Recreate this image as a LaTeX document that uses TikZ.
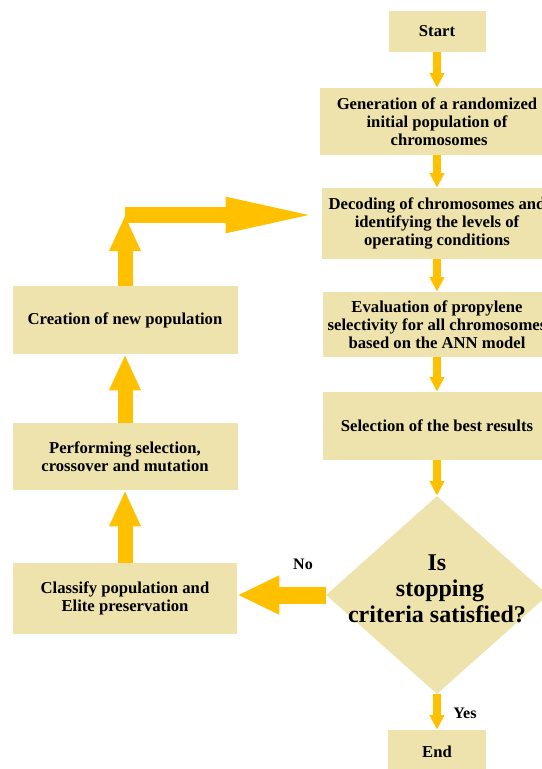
\documentclass[tikz,border=0pt]{standalone}
\usepackage{fontspec}
\setmainfont{Liberation Serif}
\usetikzlibrary{arrows.meta,shapes.geometric}
\definecolor{boxfill}{HTML}{EEE3AD}
\definecolor{arrowgold}{HTML}{FFC000}
\begin{document}
\begin{tikzpicture}[x=0.75pt,y=-0.75pt,
  box/.style={fill=boxfill, draw=none, inner sep=0pt, align=center,
    font=\bfseries\fontsize{12.5}{13.5}\selectfont},
  decision/.style={diamond, fill=boxfill, draw=none, inner sep=0pt},
  lbl/.style={inner sep=0pt, font=\bfseries\fontsize{12}{13}\selectfont},
  smallarrow/.style={draw=arrowgold, line width=6pt, -{Triangle[width=10.5pt,length=11pt]}},
  bigup/.style={draw=arrowgold, line width=11.25pt, -{Triangle[width=21.75pt,length=27pt]}},
  bighoriz/.style={draw=arrowgold, line width=12pt, -{Triangle[width=23.25pt,length=72pt]}},
  noarrow/.style={draw=arrowgold, line width=12.75pt, -{Triangle[width=27pt,length=31.5pt]}}
]
\useasboundingbox (0,0) rectangle (542,769);
\clip (0,0) rectangle (542,769);

% right column
\node[box, minimum width=97*0.75pt, minimum height=41*0.75pt] (start) at (437,31.5) {Start};
\node[box, minimum width=234*0.75pt, minimum height=67*0.75pt] (gen) at (437,121.5)
  {Generation of a randomized\\ initial population of\\ \ chromosomes};
\node[box, minimum width=230*0.75pt, minimum height=71*0.75pt] (dec) at (437,223.5)
  {Decoding of chromosomes and\\ identifying the levels of\\ operating conditions};
\node[box, minimum width=228*0.75pt, minimum height=65*0.75pt] (eval) at (437,324.5)
  {Evaluation of propylene\\ selectivity for all chromosomes\\ based on the ANN model};
\node[box, minimum width=228*0.75pt, minimum height=68*0.75pt] (sel) at (437,426)
  {Selection of the best results};
\node[decision, minimum width=222*0.75pt, minimum height=198*0.75pt] (dia) at (437,595) {};
\node[inner sep=0pt, align=center, font=\bfseries\fontsize{18}{19.5}\selectfont] (diatext) at (437,589)
  {Is\\ \ stopping\\ criteria satisfied?};
\node[box, minimum width=98*0.75pt, minimum height=44*0.75pt] (end) at (437,752) {End};

% left column
\node[box, minimum width=225*0.75pt, minimum height=68*0.75pt] (creation) at (125,320)
  {Creation of new population};
\node[box, minimum width=225*0.75pt, minimum height=67*0.75pt] (perform) at (125,456.5)
  {Performing selection,\\ crossover and mutation};
\node[box, minimum width=224*0.75pt, minimum height=71*0.75pt] (classify) at (125,598.5)
  {Classify population and\\ Elite preservation};

% labels
\node[lbl] (nolbl) at (303,564) {No};
\node[lbl] (yeslbl) at (465,713) {Yes};

% connectors
\draw[smallarrow] (start) -- (gen);
\draw[smallarrow] (gen) -- (dec);
\draw[smallarrow] (dec) -- (eval);
\draw[smallarrow] (eval) -- (sel);
\draw[smallarrow] (sel) -- (dia.north);
\draw[smallarrow] (dia.south) -- (end);

\draw[noarrow] (dia.west) -- (classify.east |- dia.west);
\draw[bigup] (classify) -- (perform);
\draw[bigup] (perform) -- (creation);
\coordinate (bend) at (125,215);
\draw[bigup] (creation) -- (bend);
\draw[bighoriz] (bend) -- (dec.west |- bend);
\end{tikzpicture}
\end{document}
